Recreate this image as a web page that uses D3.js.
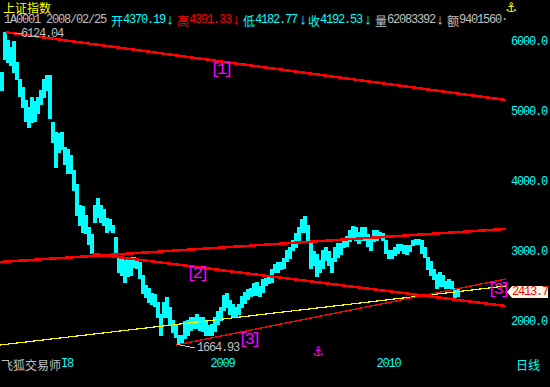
<!DOCTYPE html>
<html>
<head>
<meta charset="utf-8">
<script src="https://cdn.jsdelivr.net/npm/d3@7"></script>
<style>
    html, body { margin: 0; padding: 0; background: #000; }
    svg { display: block; }
    text { font-family: "Liberation Mono", "DejaVu Sans Mono", monospace; font-size: 12px; letter-spacing: -1.2px; }
    .cjk { font-family: "Noto Sans CJK SC", sans-serif; font-size: 12px; letter-spacing: 0; }
</style>
</head>
<body>
<div id="chart"></div>
<script>
// 上証指数 日足 (sampled sessions, high / low)
const highs = [5557, 6124, 6014, 5914, 5986, 5700, 5443, 5329, 5157, 5043, 5186, 5129, 5186, 5300, 5443, 5514, 5514,
    4829, 4700, 4672, 4686, 4472, 4443, 4371, 4157, 3943, 3657, 3629, 3514, 3329, 3229, 3657, 3757, 3657, 3586, 3471,
    3443, 3371, 3186, 2914, 2914, 2871, 2914, 2914, 2914, 2900, 2829, 2657, 2514, 2471, 2400, 2372, 2271, 2100, 2271,
    2329, 2186, 2014, 1943, 1800, 1800, 1986, 2014, 2043, 2043, 2086, 2057, 2043, 1986, 1929, 1943, 2043, 2129, 2200,
    2371, 2400, 2300, 2229, 2186, 2229, 2343, 2414, 2443, 2471, 2529, 2543, 2500, 2586, 2614, 2629, 2729, 2814, 2829,
    2829, 2900, 3014, 3057, 3157, 3257, 3329, 3457, 3486, 3371, 3157, 2986, 2943, 2871, 3014, 3057, 2986, 2900, 3043,
    3114, 3114, 3157, 3214, 3300, 3343, 3329, 3271, 3329, 3329, 3229, 3200, 3286, 3286, 3271, 3257, 3157, 3014, 3014,
    3043, 3086, 3100, 3072, 3072, 3072, 3157, 3171, 3171, 3143, 3057, 2914, 2843, 2729, 2671, 2686, 2657, 2571, 2586,
    2571, 2471, 2443];
const lows = [5286, 5729, 5700, 5657, 5543, 5443, 5214, 5043, 4843, 4771, 4829, 4843, 4971, 5100, 5200, 5300, 4900,
    4543, 4186, 4414, 4443, 4229, 4114, 4114, 3871, 3514, 3371, 3271, 3257, 3086, 2971, 3414, 3472, 3414, 3371, 3271,
    3300, 3271, 2929, 2700, 2657, 2557, 2629, 2657, 2771, 2757, 2614, 2400, 2329, 2271, 2229, 2214, 2043, 1800, 2043,
    2043, 1943, 1829, 1771, 1665, 1686, 1757, 1800, 1871, 1900, 1900, 1871, 1843, 1800, 1786, 1800, 1843, 1943, 2014,
    2157, 2200, 2086, 2043, 2043, 2086, 2186, 2257, 2314, 2343, 2371, 2371, 2357, 2414, 2514, 2529, 2543, 2686, 2700,
    2729, 2757, 2843, 2900, 3014, 3057, 3157, 3271, 3271, 3157, 2757, 2800, 2629, 2700, 2757, 2871, 2800, 2700, 2843,
    2914, 2957, 3043, 3071, 3129, 3186, 3157, 3114, 3157, 3157, 3071, 3014, 3129, 3157, 3200, 3157, 2971, 2886, 2886,
    2929, 2971, 3014, 2971, 2957, 2986, 3072, 3100, 3086, 2971, 2914, 2729, 2657, 2586, 2471, 2500, 2486, 2471, 2471,
    2471, 2329, 2357];

const priceTicks = [6000, 5000, 4000, 3000, 2000];
const yearLabels = ['2009', '2010'];
const yearIndex = [73.3, 128.7];

// 画線 [session, price]
const lineTop = [[1.3, 6124], [168, 5157]];
const lineRise = [[-0.7, 2843], [168, 3315]];
const lineFall = [[30, 2960], [168, 2214]];
const lineSupport = [[58, 1657], [168, 2600]];
const lineYellow = [[-0.7, 1657], [168, 2500]];

const peakPrice = 6124.04;
const lowPrice = 1664.93;
const lastPrice = 2413.7;

const width = 550, height = 387;
const CYAN = '#00ffff', RED = '#ff0000', GREY = '#c0c0c0', YELLOW = '#ffff00', MAGENTA = '#ff00ff';

const svg = d3.select('#chart').append('svg')
    .attr('width', width)
    .attr('height', height)
    .style('background', '#000');

const x = d3.scaleLinear().domain([0, highs.length - 1]).range([2, 458]);
const y = d3.scaleLinear().domain([6000, 2000]).range([41, 321]);

// 高安バー
svg.append('g')
    .attr('shape-rendering', 'crispEdges')
    .selectAll('rect')
    .data(highs)
    .join('rect')
    .attr('x', (d, i) => x(i) - 2)
    .attr('width', 4)
    .attr('y', d => y(d) - 0.5)
    .attr('height', (d, i) => y(lows[i]) - y(d) + 1)
    .attr('fill', CYAN);

// トレンドライン
const line = d3.line().x(d => x(d[0])).y(d => y(d[1]));
const trends = [
    { pts: lineYellow, color: YELLOW, w: 1.2 },
    { pts: lineSupport, color: RED, w: 1.2 },
    { pts: lineTop, color: RED, w: 2.5 },
    { pts: lineRise, color: RED, w: 2.5 },
    { pts: lineFall, color: RED, w: 2.5 }
];
svg.append('g')
    .attr('shape-rendering', 'crispEdges')
    .selectAll('path')
    .data(trends)
    .join('path')
    .attr('d', d => line(d.pts))
    .attr('fill', 'none')
    .attr('stroke', d => d.color)
    .attr('stroke-width', d => d.w);

// 右の価格軸
const yAxis = svg.append('g')
    .attr('transform', 'translate(511,0)')
    .call(d3.axisRight(y).tickValues(priceTicks).tickSize(0).tickPadding(0).tickFormat(d3.format('.1f')));
yAxis.select('.domain').remove();
yAxis.selectAll('text')
    .attr('fill', CYAN)
    .style('font-family', '"Liberation Mono", monospace')
    .style('font-size', '12px');

// 年ラベル
const xAxis = svg.append('g')
    .attr('transform', 'translate(0,358)')
    .call(d3.axisBottom(x).tickValues(yearIndex).tickSize(0).tickPadding(0)
        .tickFormat((d, i) => yearLabels[i]));
xAxis.select('.domain').remove();
xAxis.selectAll('text')
    .attr('fill', CYAN)
    .style('font-family', '"Liberation Mono", monospace')
    .style('font-size', '12px');

function label(str, px, py, color, cls) {
    return svg.append('text')
        .attr('x', px)
        .attr('y', py)
        .attr('fill', color)
        .attr('dominant-baseline', 'central')
        .attr('class', cls || null)
        .text(str);
}

// ヘッダー
label('上证指数', 3, 7, YELLOW, 'cjk');
label('1A0001 2008/02/25', 4, 20, GREY);
const header = [
    ['开', 111, '4370.19', 170, CYAN, CYAN],
    ['高', 177, '4391.33', 236, RED, RED],
    ['低', 243, '4182.77', 303, CYAN, CYAN],
    ['收', 308, '4192.53', 368, CYAN, CYAN],
    ['量', 375, '62083392', 440, GREY, GREY],
    ['额', 447, '9401560', 0, GREY, GREY]
];
header.forEach(h => {
    label(h[0], h[1], 20, h[4], 'cjk');
    label(h[2], h[1] + 12, 20, h[5]);
    if (h[3]) {
        label('↓', h[3], 20, h[4]).attr('text-anchor', 'middle').style('font-size', '15px').style('letter-spacing', 0);
    }
});
label('·', 501, 20, GREY);

// 高値・安値の注記
label('—' + peakPrice.toFixed(2), 15, y(peakPrice) + 1.5, GREY);
label(lowPrice.toFixed(2), 197, 348, GREY);
svg.append('path')
    .attr('d', `M${x(58.5)},${y(lowPrice)}L195,348`)
    .attr('stroke', GREY)
    .attr('fill', 'none')
    .attr('shape-rendering', 'crispEdges');

// 波動番号
const waveMarks = [['[1]', 220, 69], ['[2]', 196, 273], ['[3]', 248, 339], ['[3]', 497, 289]];
waveMarks.forEach(m => {
    label(m[0], m[1], m[2], MAGENTA)
        .attr('text-anchor', 'middle')
        .style('font-size', '17px')
        .style('letter-spacing', '-3.8px');
});

// 現在値ボックス
const boxY = y(lastPrice);
svg.append('path')
    .attr('d', `M507,${boxY}L512,${boxY - 6}H548V${boxY + 6}H512Z`)
    .attr('fill', '#fff8e8');
label(lastPrice.toFixed(1), 512, boxY, RED);

// 下段
label('飞狐交易师', 1, 364, GREY, 'cjk');
label('I8', 61, 364, CYAN);
label('日线', 516, 364, CYAN, 'cjk');

// 錨マーク
label('⚓', 511, 7, YELLOW).attr('text-anchor', 'middle')
    .style('font-family', '"DejaVu Sans"').style('font-size', '13px').style('letter-spacing', 0);
label('⚓', 318, 351, MAGENTA).attr('text-anchor', 'middle')
    .style('font-family', '"DejaVu Sans"').style('font-size', '13px').style('letter-spacing', 0);
</script>
</body>
</html>
